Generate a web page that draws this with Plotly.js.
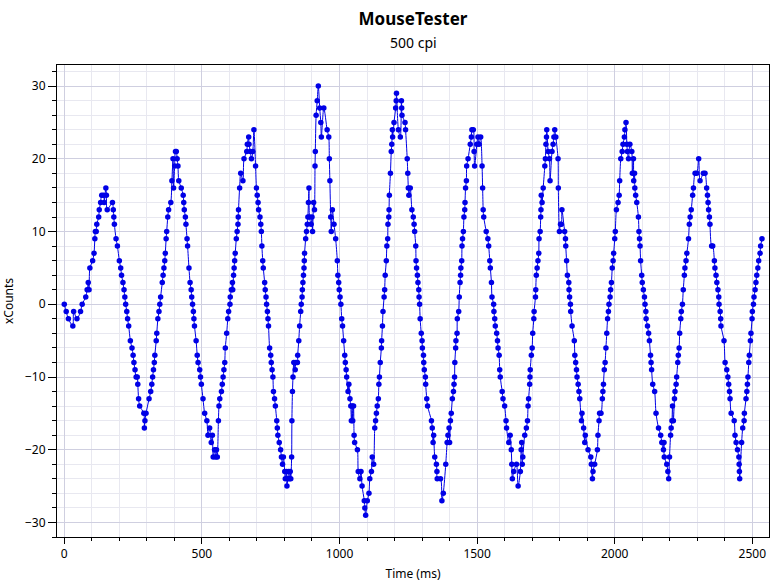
<!DOCTYPE html>
<html>
<head>
<meta charset="utf-8">
<script src="https://cdn.plot.ly/plotly-3.0.1.min.js"></script>
<style>html,body{margin:0;padding:0;background:#fff;}#chart{width:779px;height:587px;}</style>
</head>
<body>
<div id="chart"></div>
<script>
const chartTitle = "MouseTester";
const chartSubtitle = "500 cpi";
const xTitle = "Time (ms)";
const yTitle = "xCounts";

const timeMs = [
0,7,15,31,34,46,59,65,78,83,
87,90,93,103,108,111,113,116,118,125,
127,132,136,143,145,151,153,156,175,178,
180,182,188,193,200,205,208,213,217,220,
223,227,230,234,240,246,250,253,257,261,
265,267,270,274,289,291,293,297,308,314,
318,321,324,327,329,334,336,340,344,347,
350,356,359,362,365,367,370,372,376,379,
387,391,395,397,401,404,407,410,413,416,
425,432,434,436,440,442,446,448,453,457,
461,463,466,469,471,473,479,483,486,492,
495,498,504,510,518,522,528,534,538,541,
546,550,553,556,560,562,565,571,574,577,
580,583,585,590,594,597,602,603,607,611,
612,615,617,619,621,625,628,631,632,633,
637,641,649,653,663,665,670,671,676,680,
685,689,695,698,701,704,706,711,714,716,
718,721,723,728,730,733,735,738,740,742,
746,750,752,755,758,760,764,767,772,774,
776,781,786,789,793,796,801,803,807,809,
812,815,818,821,823,826,827,829,831,834,
839,842,847,848,852,855,859,861,864,865,
867,869,871,872,873,877,880,883,885,887,
889,891,897,900,902,906,909,911,912,915,
919,923,928,932,934,943,955,961,963,965,
968,970,974,980,986,992,994,997,999,1002,
1005,1008,1011,1015,1019,1021,1024,1026,1031,1034,
1038,1041,1043,1046,1048,1051,1053,1055,1065,1068,
1074,1078,1082,1090,1092,1095,1101,1107,1110,1116,
1119,1124,1128,1131,1134,1137,1141,1143,1145,1148,
1152,1153,1156,1158,1162,1164,1166,1170,1172,1175,
1176,1179,1180,1181,1185,1188,1190,1192,1193,1198,
1204,1206,1207,1214,1221,1225,1226,1227,1238,1240,
1246,1248,1250,1252,1257,1263,1268,1271,1273,1277,
1278,1280,1283,1285,1288,1289,1291,1293,1297,1300,
1301,1305,1306,1308,1312,1313,1317,1320,1334,1337,
1340,1342,1346,1352,1354,1355,1367,1372,1377,1386,
1391,1394,1398,1400,1403,1406,1410,1414,1416,1418,
1419,1422,1423,1427,1428,1433,1435,1438,1440,1441,
1444,1445,1447,1450,1452,1455,1456,1458,1461,1462,
1467,1475,1479,1481,1486,1489,1491,1499,1503,1507,
1513,1518,1520,1522,1524,1533,1539,1542,1546,1548,
1552,1554,1560,1561,1564,1566,1571,1574,1576,1580,
1582,1584,1591,1594,1600,1605,1607,1615,1620,1624,
1626,1628,1633,1643,1649,1657,1660,1662,1664,1666,
1673,1679,1683,1685,1687,1691,1692,1693,1697,1700,
1702,1706,1707,1712,1713,1715,1718,1721,1724,1725,
1729,1731,1732,1733,1736,1740,1746,1748,1750,1752,
1753,1758,1763,1765,1772,1776,1779,1782,1786,1794,
1795,1799,1803,1806,1808,1818,1821,1822,1825,1828,
1833,1834,1836,1839,1840,1845,1853,1855,1858,1861,
1863,1867,1870,1873,1879,1881,1887,1891,1893,1903,
1913,1915,1919,1921,1927,1937,1939,1943,1945,1950,
1955,1957,1959,1962,1965,1968,1971,1974,1977,1979,
1983,1985,1988,1991,1994,1996,2000,2002,2006,2012,
2016,2018,2022,2027,2030,2035,2037,2041,2044,2046,
2050,2055,2062,2064,2068,2069,2072,2073,2076,2080,
2086,2088,2090,2092,2094,2098,2100,2104,2108,2110,
2113,2114,2119,2123,2126,2130,2132,2134,2138,2145,
2150,2159,2167,2171,2177,2179,2180,2189,2193,2196,
2199,2203,2205,2208,2210,2213,2217,2219,2223,2225,
2229,2231,2234,2236,2240,2242,2246,2249,2253,2255,
2259,2262,2268,2271,2274,2278,2283,2286,2292,2298,
2305,2310,2322,2328,2334,2337,2339,2341,2344,2346,
2352,2356,2362,2364,2368,2371,2375,2378,2379,2383,
2385,2386,2397,2401,2407,2411,2414,2417,2419,2423,
2434,2437,2441,2446,2451,2452,2453,2454,2461,2465,
2470,2471,2477,2480,2482,2484,2487,2489,2493,2495,
2499,2500,2504,2506,2510,2513,2516,2520,2523,2528,2530,2535
];

const xCounts = [
0,-1,-2,-3,-1,-2,-1,0,1,2,
3,2,5,6,7,9,10,10,11,12,
13,14,15,15,14,16,15,13,14,13,
12,11,9,8,6,5,4,3,2,1,
0,-1,-2,-3,-5,-6,-7,-8,-9,-10,
-10,-11,-13,-14,-15,-17,-16,-15,-13,-12,
-11,-10,-9,-8,-7,-5,-4,-2,-1,0,
1,3,4,5,6,7,9,10,12,13,
14,17,20,16,19,21,21,20,19,17,
16,15,14,13,12,11,9,8,5,3,
2,1,0,-1,-2,-3,-5,-7,-8,-9,
-10,-11,-13,-15,-16,-18,-17,-19,-18,-21,
-20,-21,-20,-21,-16,-14,-13,-12,-11,-10,
-9,-8,-6,-4,-2,-1,0,1,2,3,
2,4,5,6,7,9,10,11,12,13,
16,18,17,20,21,22,23,22,21,20,
21,24,19,16,15,14,13,12,11,10,
8,6,5,3,2,1,0,-1,-2,-3,
-6,-7,-8,-9,-10,-12,-13,-14,-16,-17,
-18,-19,-20,-21,-22,-21,-23,-24,-23,-25,
-24,-23,-24,-23,-24,-21,-16,-12,-10,-8,
-9,-8,-8,-7,-5,-3,-1,0,1,2,
3,4,5,6,7,9,10,11,12,14,
16,12,11,12,10,14,13,19,21,26,
28,30,27,25,23,27,24,23,20,17,
12,10,13,11,9,6,4,3,2,1,
0,-2,-3,-5,-7,-8,-9,-10,-12,-11,
-13,-14,-16,-14,-16,-14,-18,-19,-20,-23,
-24,-23,-25,-27,-28,-29,-27,-26,-24,-23,
-21,-22,-17,-16,-15,-14,-13,-11,-10,-8,
-6,-5,-3,-1,1,2,4,6,8,9,
11,12,13,15,18,21,22,24,23,25,
27,28,29,24,23,28,27,26,25,24,
20,18,16,15,16,13,12,11,10,8,
6,5,4,3,2,1,0,-2,-4,-5,
-6,-7,-8,-9,-10,-11,-13,-14,-16,-17,
-19,-18,-21,-22,-23,-24,-24,-27,-26,-22,
-19,-18,-17,-19,-16,-15,-13,-12,-11,-10,
-8,-6,-5,-4,-2,-1,1,3,4,5,
6,8,9,10,12,13,14,16,17,19,
20,22,23,24,24,21,19,22,23,22,
23,19,16,13,12,10,9,8,6,5,
3,1,0,-1,-2,-3,-4,-5,-6,-7,
-9,-10,-12,-13,-14,-16,-17,-19,-18,-20,
-22,-24,-23,-22,-25,-23,-20,-19,-22,-21,
-18,-17,-16,-14,-13,-11,-10,-9,-7,-6,
-4,-2,-1,1,2,4,5,6,7,9,
10,12,13,15,14,16,19,20,22,23,
24,21,20,17,21,22,23,24,23,20,
16,10,11,11,13,10,9,8,6,4,
3,2,1,0,-1,-3,-5,-7,-8,-9,
-10,-11,-12,-13,-16,-15,-17,-19,-18,-20,
-21,-22,-24,-23,-22,-20,-18,-16,-15,-15,
-13,-12,-11,-9,-8,-6,-4,-2,-1,0,
1,2,3,5,6,7,9,10,13,14,
15,17,20,21,22,23,24,25,22,21,
20,22,21,18,20,17,18,16,15,14,
12,10,9,8,6,4,3,2,1,0,
-1,-2,-3,-4,-5,-7,-8,-9,-11,-12,
-15,-17,-18,-19,-20,-19,-21,-22,-23,-24,
-21,-18,-17,-16,-14,-16,-13,-12,-11,-10,
-8,-7,-6,-4,-2,-1,0,2,4,5,
6,7,9,11,12,13,15,16,18,18,
20,17,18,18,16,15,14,13,12,11,
8,8,6,5,4,3,2,1,0,-1,
-2,-3,-5,-8,-9,-10,-11,-12,-13,-15,
-16,-18,-19,-20,-21,-22,-23,-24,-19,-17,
-16,-15,-13,-12,-11,-10,-8,-7,-5,-4,
-2,-1,0,1,2,3,4,5,6,7,8,9
];

const FONT = "Noto Sans, Open Sans, DejaVu Sans, sans-serif";
const majorGrid = "#cfcfe0";
const minorGrid = "#e8e8f0";

const trace = {
  x: timeMs,
  y: xCounts,
  type: "scatter",
  mode: "lines+markers",
  line: {color: "#0000e6", width: 1, shape: "spline", smoothing: 0.8},
  marker: {color: "#0000e6", size: 5.5},
  hoverinfo: "x+y"
};

const layout = {
  width: 779,
  height: 587,
  paper_bgcolor: "#ffffff",
  plot_bgcolor: "#ffffff",
  margin: {l: 57, r: 10, t: 65, b: 50},
  showlegend: false,
  font: {family: FONT, size: 12, color: "#000000"},
  title: {
    text: "<b>" + chartTitle + "</b>",
    font: {family: FONT, size: 17, color: "#000000"},
    x: 0.5, xanchor: "center",
    xref: "paper",
    y: 1 - 19 / 587, yref: "container", yanchor: "middle"
  },
  annotations: [{
    text: chartSubtitle,
    xref: "paper", yref: "paper",
    x: 0.5, xanchor: "center",
    y: 1 + (65 - 43) / 472, yanchor: "middle",
    showarrow: false,
    font: {family: FONT, size: 14, color: "#000000"}
  }],
  xaxis: {
    range: [-26.5, 2560.5],
    tickmode: "linear", tick0: 0, dtick: 500,
    ticks: "outside", ticklen: 6, tickcolor: "#000000", tickwidth: 1,
    showline: true, linecolor: "#000000", linewidth: 1, mirror: true,
    showgrid: true, gridcolor: majorGrid, gridwidth: 1,
    zeroline: false,
    tickfont: {family: FONT, size: 12, color: "#000000"},
    title: {text: xTitle, font: {family: FONT, size: 12, color: "#000000"}, standoff: 8},
    minor: {dtick: 100, tick0: 0, ticks: "outside", ticklen: 3, tickcolor: "#000000", showgrid: true, gridcolor: minorGrid, gridwidth: 1}
  },
  yaxis: {
    range: [-32.0, 32.9],
    tickmode: "linear", tick0: 0, dtick: 10,
    ticks: "outside", ticklen: 8, tickcolor: "#000000", tickwidth: 1,
    showline: true, linecolor: "#000000", linewidth: 1, mirror: true,
    showgrid: true, gridcolor: majorGrid, gridwidth: 1,
    zeroline: false,
    tickfont: {family: FONT, size: 12, color: "#000000"},
    title: {text: yTitle, font: {family: FONT, size: 12, color: "#000000"}, standoff: 8},
    minor: {dtick: 2, tick0: 0, ticks: "outside", ticklen: 4, tickcolor: "#000000", showgrid: true, gridcolor: minorGrid, gridwidth: 1}
  }
};

Plotly.newPlot("chart", [trace], layout, {displayModeBar: false, staticPlot: true});
</script>
</body>
</html>
